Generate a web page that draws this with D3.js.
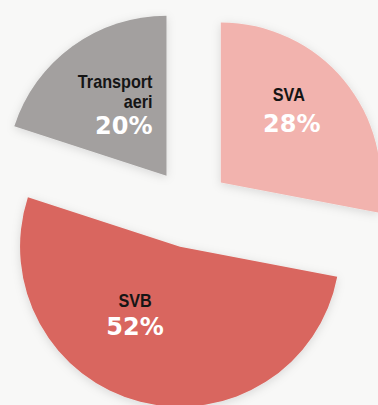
<!DOCTYPE html>
<html>
<head>
<meta charset="utf-8">
<script src="https://cdn.jsdelivr.net/npm/d3@7"></script>
<style>
  html, body { margin: 0; padding: 0; background: #f8f8f7; }
  svg { display: block; }
</style>
</head>
<body>
<svg id="chart" width="378" height="405"></svg>
<script>
// Share of each segment, in percent
const categories = ["SVA", "SVB", "Transport aeri"];
const nameLines = [["SVA"], ["SVB"], ["Transport", "aeri"]];
const shares = [28, 52, 20];
const colors = ["#f2b3ae", "#d9665f", "#a3a09f"];

// Layout
const width = 378, height = 405;
const cx = 190, cy = 208;
const radius = 160;
const explode = 40;

// Label anchors relative to each slice's tip, and text alignment
const labelOffset = [[68, -82], [-45, 60], [-14, -88]];
const labelAnchor = ["middle", "middle", "end"];
const labelPctShift = [3, 0, 0];
const labelPctDy = [31, 28, 26];
const lineGap = 20.5;
const nameSize = 18;
const narrow = 0.9; // horizontal squeeze for the condensed name labels

const svg = d3.select("#chart");

const defs = svg.append("defs");
const shadow = defs.append("filter")
  .attr("id", "soft")
  .attr("x", "-20%").attr("y", "-20%")
  .attr("width", "140%").attr("height", "140%");
shadow.append("feDropShadow")
  .attr("dx", 0).attr("dy", 2)
  .attr("stdDeviation", 5)
  .attr("flood-color", "#000")
  .attr("flood-opacity", 0.13);

const pie = d3.pie().sort(null).value(d => d)
  .startAngle(0).endAngle(2 * Math.PI);
const arcs = pie(shares);

const arc = d3.arc().innerRadius(0).outerRadius(radius);

const g = svg.append("g").attr("transform", `translate(${cx},${cy})`);

const slices = g.selectAll("g.slice")
  .data(arcs)
  .join("g")
  .attr("class", "slice")
  .attr("transform", d => {
    const mid = (d.startAngle + d.endAngle) / 2;
    const dx = Math.sin(mid) * explode;
    const dy = -Math.cos(mid) * explode;
    return `translate(${dx},${dy})`;
  });

slices.append("path")
  .attr("d", arc)
  .attr("fill", (d, i) => colors[i])
  .attr("filter", "url(#soft)");

slices.each(function (d, i) {
  const sel = d3.select(this);
  const [ox, oy] = labelOffset[i];
  const t = sel.append("g").attr("transform", `translate(${ox},${oy})`);
  const lines = nameLines[i];
  lines.forEach((line, k) => {
    t.append("text")
      .attr("transform", `translate(0,${k * lineGap}) scale(${narrow},1)`)
      .attr("text-anchor", labelAnchor[i])
      .attr("font-family", "'Liberation Sans', Arial, sans-serif")
      .attr("font-weight", "bold")
      .attr("font-size", nameSize)
      .attr("fill", "#151515")
      .text(line);
  });
  t.append("text")
    .attr("x", labelPctShift[i])
    .attr("y", (lines.length - 1) * lineGap + labelPctDy[i])
    .attr("text-anchor", labelAnchor[i])
    .attr("font-family", "'DejaVu Sans', 'Liberation Sans', sans-serif")
    .attr("font-weight", "bold")
    .attr("font-size", 24)
    .attr("fill", "#ffffff")
    .text(shares[i] + "%");
});
</script>
</body>
</html>
